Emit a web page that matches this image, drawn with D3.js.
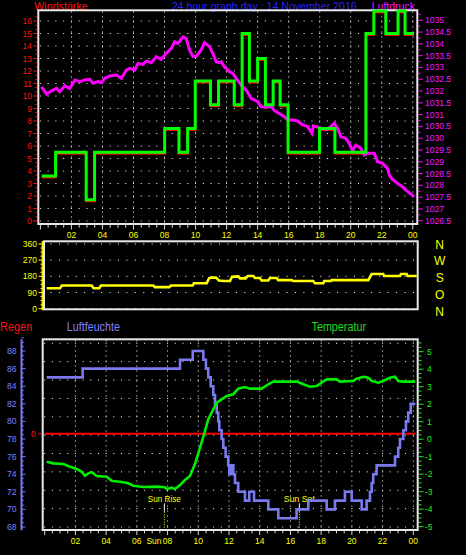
<!DOCTYPE html>
<html><head><meta charset="utf-8">
<script src="https://cdn.jsdelivr.net/npm/d3@7"></script>
<style>body{margin:0;background:#000;} svg{display:block;} text{font-family:"Liberation Sans",Arial,sans-serif;}</style>
</head><body><svg id="c" width="466" height="555"></svg>
<script>
// ---------- DATA ----------
const hourTicks = [2,4,6,8,10,12,14,16,18,20,22,24];
const hourLabels = ["02","04","06","08","10","12","14","16","18","20","22","00"];

const windTimes = [0.08,0.98,2.95,3.49,8.01,8.93,9.49,9.98,10.96,11.48,12.49,13.0,13.47,14.0,14.5,15.0,15.45,15.96,17.99,18.98,20.98,21.49,22.26,23.05,23.5,24.08];
const windValues = [3.6,5.5,1.7,5.5,7.4,5.5,7.4,11.2,9.3,11.2,9.3,15.0,11.2,13.0,9.3,11.2,9.3,5.5,7.4,5.5,15.0,16.8,15.0,16.8,15.0,15.0];

const pressTimes = [0.075,0.40,0.72,1.04,1.25,1.58,1.90,2.22,2.54,2.86,3.18,3.40,3.72,3.93,4.15,4.47,4.90,5.22,5.54,5.76,6.08,6.29,6.61,6.83,7.15,7.47,7.79,8.11,8.44,8.65,8.86,9.19,9.40,9.61,9.83,10.04,10.36,10.58,10.90,11.11,11.33,11.54,11.65,11.86,12.19,12.40,12.62,12.94,13.26,13.58,14.01,14.22,14.54,14.87,15.08,15.40,15.72,15.94,16.26,16.58,16.90,17.22,17.50,17.59,18.08,18.40,18.73,18.94,19.15,19.37,19.69,19.90,20.12,20.33,20.65,20.87,21.08,21.51,21.73,22.05,22.37,22.48,22.69,23.01,23.33,23.55,23.76,24.08];
const pressValues = [1032.18,1031.87,1032.01,1032.11,1031.97,1032.23,1032.11,1032.47,1032.40,1032.47,1032.50,1032.33,1032.40,1032.35,1032.54,1032.64,1032.68,1032.54,1032.89,1032.96,1032.89,1033.17,1033.13,1033.27,1033.20,1033.46,1033.34,1033.60,1033.81,1034.09,1034.02,1034.30,1034.23,1033.74,1033.46,1033.46,1033.74,1034.05,1033.88,1033.60,1033.24,1033.20,1033.24,1033.03,1032.82,1032.75,1032.54,1032.25,1032.04,1031.69,1031.55,1031.34,1031.31,1031.34,1031.17,1031.05,1030.91,1030.77,1030.77,1030.73,1030.56,1030.49,1030.21,1030.52,1030.42,1030.35,1030.49,1030.63,1030.42,1030.06,1029.99,1029.78,1029.47,1029.71,1029.57,1029.29,1029.36,1029.36,1029.00,1028.93,1028.72,1028.44,1028.25,1028.09,1027.94,1027.80,1027.69,1027.52];

const dirTimes = [0.11,0.97,1.10,3.03,3.15,3.52,3.63,7.02,7.13,8.06,8.17,9.58,9.66,10.49,10.64,10.81,11.09,11.28,11.61,12.0,12.13,12.54,12.65,13.02,13.15,13.51,13.62,13.94,14.05,14.48,14.59,15.03,15.13,16.0,16.10,17.40,17.51,18.05,18.11,18.55,18.59,20.97,21.19,21.94,22.0,23.02,23.09,23.46,23.52,24.11];
const dirValues = [114,114,129,129,114,114,129,129,120,120,129,129,142,142,169,173,173,157,154,154,178,180,169,169,182,182,171,171,157,157,171,171,159,159,154,154,142,142,154,154,159,159,193,193,182,182,193,193,182,182];
const dirTicks = [0,90,180,270,360];
const dirLetters = ["N","W","S","O","N"];

const humTimes = [0.13,2.47,8.81,9.64,10.33,10.5,10.65,10.81,10.98,11.09,11.20,11.30,11.37,11.52,11.63,11.78,11.95,12.02,12.17,12.28,12.39,12.60,13.04,13.32,13.63,14.56,15.21,16.40,17.16,18.36,18.90,19.55,19.99,20.64,20.96,21.18,21.29,21.39,21.61,22.81,23.02,23.13,23.35,23.52,23.67,23.83,24.13];
const humValues = [85,86,87,88,87,86,85,84,83,82,81,80,79,78,77,76,75,74,75,74,73,72,71,72,71,70,69,70,71,70,71,72,71,70,71,72,73,74,75,76,77,78,79,80,81,82,82];

const tempTimes = [0.13,0.56,1.21,1.65,2.08,2.41,2.62,2.84,3.06,3.39,4.04,4.36,4.90,5.44,5.77,6.42,7.29,7.83,7.94,8.27,8.48,8.81,9.13,9.46,9.79,10.11,10.44,10.65,10.98,11.20,11.52,11.85,12.28,12.60,13.04,13.37,14.13,14.56,14.88,16.41,16.84,17.27,17.71,18.03,18.36,19.01,19.22,20.09,20.31,20.74,21.07,21.29,21.72,22.04,22.48,22.81,23.02,23.35,24.13];
const tempValues = [-1.29,-1.38,-1.42,-1.57,-1.70,-1.86,-2.09,-1.95,-1.89,-2.10,-2.14,-2.37,-2.43,-2.52,-2.66,-2.73,-2.71,-2.75,-2.85,-2.77,-2.85,-2.62,-2.33,-2.10,-1.40,-0.50,0.47,1.14,1.71,2.09,2.28,2.47,2.57,2.89,2.98,2.89,2.89,3.14,3.29,3.29,3.14,3.0,3.04,3.23,3.42,3.42,3.29,3.33,3.46,3.57,3.51,3.33,3.23,3.33,3.51,3.57,3.33,3.29,3.29];

const rainTimes = [0.0,24.13];
const rainValues = [0,0];

const windTicks = d3.range(0,17);
const pressTicks = d3.range(1026.5,1035.01,0.5);
const humTicks = d3.range(68,89,2);
const tempTicks = d3.range(-5,6,1);
const sunTimes = [7.79,16.58];
const sunLabels = ["Sun Rise","Sun Set"];

// ---------- HELPERS ----------
const svg = d3.select("#c");
svg.append("rect").attr("width",466).attr("height",555).attr("fill","#000");
const zip = (a,b)=>a.slice(0,Math.min(a.length,b.length)).map((v,i)=>[v,b[i]]);
const FRAME="#e8e8e8", GRID="#ffffff", TICK="#d8d8d8";
function hDots(g,y,x0,x1,step){
  g.append("line").attr("x1",x0).attr("x2",x1).attr("y1",y).attr("y2",y)
   .attr("stroke",GRID).attr("stroke-width",1).attr("stroke-dasharray",`1 ${step-1}`);
}
function vDots(g,x,y0,y1){
  g.append("line").attr("x1",x).attr("x2",x).attr("y1",y0).attr("y2",y1)
   .attr("stroke",GRID).attr("stroke-width",1).attr("stroke-dasharray","1 4");
}
function txt(g,s,x,y,col,size,anchor,len){
  const t=g.append("text").attr("x",x).attr("y",y).attr("fill",col).attr("font-size",size)
    .attr("text-anchor",anchor||"start").text(s);
  if(len) t.attr("textLength",len).attr("lengthAdjust","spacingAndGlyphs");
  return t;
}

// ---------- TITLES ----------
txt(svg,"Windstärke",34.3,10,"#ff1010",11.5,"start",53.4);
txt(svg,"24 hour graph day : 14 November 2016",171.7,10,"#2424ff",11.5,"start",185);
txt(svg,"Luftdruck",371.7,10,"#ff10ff",11.5,"start",43.3);

// ---------- TOP PANEL ----------
const topG = svg.append("g");
const xT = d3.scaleLinear().domain([0,24]).range([40.4,412.8]);
const yW = d3.scaleLinear().domain([0,16]).range([221,21]);
const yP = d3.scaleLinear().domain([1026.5,1035]).range([220.7,20.3]);
const tStep = xT(0.5)-xT(0);
windTicks.forEach(v=>hDots(topG,yW(v),xT(0)-0.5,416,tStep));
hourTicks.forEach(h=>vDots(topG,xT(h),11.5,223));
topG.append("rect").attr("x",38.3).attr("y",10.3).attr("width",379).attr("height",213.7)
  .attr("fill","none").attr("stroke",FRAME).attr("stroke-width",2);

d3.range(0,16.34,1/3).forEach((v,i)=>{
  const major = i%3===0;
  topG.append("line").attr("x1",major?33.3:35.3).attr("x2",37.3).attr("y1",yW(v)).attr("y2",yW(v))
    .attr("stroke","#ff1010").attr("stroke-width",1);
});
windTicks.forEach(v=>txt(topG,String(v),32,yW(v)+3,"#ff1010",8.5,"end"));
d3.range(1026.5,1035.3,0.25).forEach((v,i)=>{
  const major = i%2===0;
  topG.append("line").attr("x1",418.3).attr("x2",major?422.7:420.5).attr("y1",yP(v)).attr("y2",yP(v))
    .attr("stroke","#ff10ff").attr("stroke-width",1);
});
pressTicks.forEach(v=>txt(topG,String(+v.toFixed(1)),425,yP(v)+3,"#ff10ff",8.5,"start"));
d3.range(0,24.01,0.5).forEach((h,i)=>{
  topG.append("line").attr("x1",xT(h)).attr("x2",xT(h)).attr("y1",225).attr("y2",i%4===0?229.5:227.7)
    .attr("stroke",TICK).attr("stroke-width",1);
});
hourTicks.forEach((h,i)=>txt(topG,hourLabels[i],xT(h),237.7,"#ffff00",8.5,"middle"));

const windData = zip(windTimes,windValues);
const windLine = d3.line().x(d=>xT(d[0])).y(d=>yW(d[1])).curve(d3.curveStepAfter);
topG.append("path").attr("d",windLine(windData)).attr("fill","none").attr("stroke","#ff0000")
  .attr("stroke-width",2).attr("transform","translate(0,1.6)");
const pressLine = d3.line().x(d=>xT(d[0])).y(d=>yP(d[1]));
topG.append("path").attr("d",pressLine(zip(pressTimes,pressValues))).attr("fill","none")
  .attr("stroke","#ff00ff").attr("stroke-width",3);
topG.append("path").attr("d",windLine(windData)).attr("fill","none").attr("stroke","#00ff00")
  .attr("stroke-width",3);

// ---------- MIDDLE PANEL ----------
const mid = svg.append("g");
const xM = d3.scaleLinear().domain([0,24]).range([45,415]);
const yD = d3.scaleLinear().domain([0,360]).range([308.7,244]);
dirTicks.forEach(v=>hDots(mid,yD(v),50.5,416,8.43));
mid.append("rect").attr("x",44).attr("y",241.3).attr("width",373.7).attr("height",68)
  .attr("fill","none").attr("stroke",FRAME).attr("stroke-width",2);
mid.append("line").attr("x1",42.3).attr("x2",42.3).attr("y1",241).attr("y2",310.3)
  .attr("stroke","#ffff00").attr("stroke-width",1.3);
d3.range(0,360.1,22.5).forEach((v,i)=>{
  mid.append("line").attr("x1",i%4===0?38.5:40.5).attr("x2",42.3).attr("y1",yD(v)).attr("y2",yD(v))
    .attr("stroke","#ffff00").attr("stroke-width",1);
});
dirTicks.forEach(v=>txt(mid,String(v),37,yD(v)+3,"#ffff00",8.5,"end"));
const yLetter = d3.scalePoint().domain(d3.range(dirLetters.length)).range([244.3,311]);
dirLetters.forEach((l,i)=>txt(mid,l,439.7,yLetter(i)+4.5,"#ffff00",12,"middle"));
const dirLine = d3.line().x(d=>xM(d[0])).y(d=>yD(d[1]));
mid.append("path").attr("d",dirLine(zip(dirTimes,dirValues))).attr("fill","none")
  .attr("stroke","#ffff00").attr("stroke-width",2.6);

// ---------- BOTTOM PANEL ----------
const bot = svg.append("g");
txt(bot,"Regen",0,331.3,"#ff1010",12,"start",32.3);
txt(bot,"Luftfeuchte",66.7,331.3,"#8080ff",12,"start",53.3);
txt(bot,"Temperatur",311.5,331.3,"#22dd22",12,"start",54.5);

const xB = d3.scaleLinear().domain([0,24]).range([44.7,413.3]);
const yH = d3.scaleLinear().domain([68,88]).range([527,351]);
const yT = d3.scaleLinear().domain([-5,5]).range([526.7,351.7]);
const yR = d3.scaleLinear().domain([0,1]).range([433.7,415]);
const gridRow = d3.scaleLinear().domain([0,10]).range([527,343.3]);
const bStep = xB(0.5)-xB(0);
d3.range(0,11).forEach(i=>hDots(bot,gridRow(i),xB(0)-0.5,416.5,bStep));
hourTicks.forEach(h=>vDots(bot,xB(h),340.5,529));
bot.append("rect").attr("x",42.7).attr("y",339.3).attr("width",375).attr("height",190.7)
  .attr("fill","none").attr("stroke",FRAME).attr("stroke-width",2);

bot.append("line").attr("x1",21.5).attr("x2",21.5).attr("y1",339.3).attr("y2",530.3)
  .attr("stroke","#7a7aff").attr("stroke-width",2);
d3.range(68,89.6,0.5).forEach((v,i)=>{
  bot.append("line").attr("x1",21.5).attr("x2",i%4===0?25.5:23.8).attr("y1",yH(v)).attr("y2",yH(v))
    .attr("stroke","#7a7aff").attr("stroke-width",1);
});
humTicks.forEach(v=>txt(bot,String(v),16.5,yH(v)+3,"#8080ff",8.5,"end"));
bot.append("line").attr("x1",38.3).attr("x2",42).attr("y1",yR(0)).attr("y2",yR(0))
  .attr("stroke","#ff1010").attr("stroke-width",1);
txt(bot,"0",35.7,yR(0)+3,"#ff1010",8.5,"end");
d3.range(-5,5.6,0.25).forEach((v,i)=>{
  bot.append("line").attr("x1",419).attr("x2",i%4===0?423.5:421.5).attr("y1",yT(v)).attr("y2",yT(v))
    .attr("stroke","#22ee22").attr("stroke-width",1);
});
tempTicks.forEach(v=>txt(bot,String(v),v<0?424.8:427,yT(v)+3,"#22ee22",8.5,"start"));
d3.range(0,24.01,0.5).forEach((h,i)=>{
  bot.append("line").attr("x1",xB(h)).attr("x2",xB(h)).attr("y1",531).attr("y2",i%4===0?535:533.3)
    .attr("stroke",TICK).attr("stroke-width",1);
});
hourTicks.forEach((h,i)=>txt(bot,hourLabels[i],xB(h),544.3,"#ffff00",8.5,"middle"));
// "Sun" prefix drawn next to the 08 label on the time axis (as in the reference)
txt(bot,"Sun",xB(hourTicks[3])-6,544.3,"#ffff00",8.5,"end");

sunTimes.forEach((t,i)=>{
  const x = xB(t);
  bot.append("line").attr("x1",x).attr("x2",x).attr("y1",503.3).attr("y2",511.7)
    .attr("stroke","#ffffff").attr("stroke-width",1);
  bot.append("line").attr("x1",x).attr("x2",x).attr("y1",511.7).attr("y2",529.5)
    .attr("stroke","#ffff00").attr("stroke-width",1).attr("stroke-dasharray","1 1.5");
  txt(bot,sunLabels[i],x,501.5,"#ffff00",9.5,"middle",i===0?33:31);
});

const rainLine = d3.line().x(d=>xB(d[0])).y(d=>yR(d[1]));
bot.append("path").attr("d",rainLine(zip(rainTimes,rainValues))).attr("fill","none")
  .attr("stroke","#ff0000").attr("stroke-width",2);
const humLine = d3.line().x(d=>xB(d[0])).y(d=>yH(d[1])).curve(d3.curveStepAfter);
bot.append("path").attr("d",humLine(zip(humTimes,humValues))).attr("fill","none")
  .attr("stroke","#7a7aee").attr("stroke-width",2.6);
const tempLine = d3.line().x(d=>xB(d[0])).y(d=>yT(d[1]));
bot.append("path").attr("d",tempLine(zip(tempTimes,tempValues))).attr("fill","none")
  .attr("stroke","#00ee00").attr("stroke-width",2.6);
</script></body></html>
